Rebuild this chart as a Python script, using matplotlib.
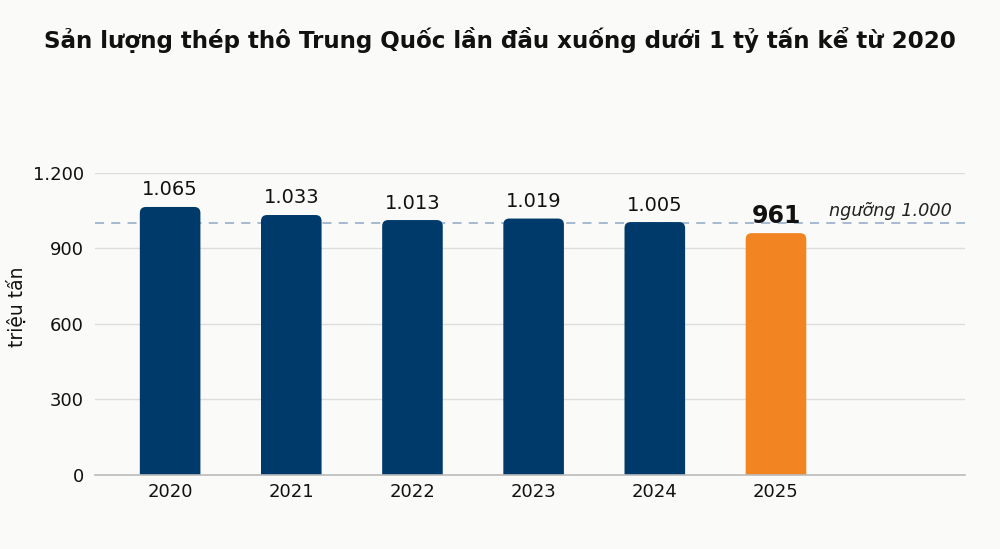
import matplotlib.pyplot as plt
from matplotlib.patches import FancyBboxPatch

plt.rcParams['font.family'] = ['DejaVu Sans']

# san luong thep tho Trung Quoc (trieu tan)
years = ['2020', '2021', '2022', '2023', '2024', '2025']
output = [1065, 1033, 1013, 1019, 1005, 961]
labels = ['1.065', '1.033', '1.013', '1.019', '1.005', '961']
yticks = [0, 300, 600, 900, 1200]
ytick_labels = ['0', '300', '600', '900', '1.200']
threshold = 1000

navy = '#003a6b'
orange = '#f28522'
bg = '#fafaf8'

fig = plt.figure(figsize=(10, 5.49), dpi=100, facecolor=bg)
ax = fig.add_axes([0.095, 0.1348, 0.87, 0.5501])
ax.set_facecolor(bg)

x = list(range(len(years)))
colors = [navy] * (len(years) - 1) + [orange]
bars = ax.bar(x, output, width=0.5, color=colors, zorder=3)

ax.set_xlim(-0.62, 6.56)
ax.set_ylim(0, 1200)

# rounded tops: swap each bar for a rounded box whose bottom is clipped away
fig.canvas.draw()
px_x = ax.transData.transform((1, 0))[0] - ax.transData.transform((0, 0))[0]
px_y = ax.transData.transform((0, 1))[1] - ax.transData.transform((0, 0))[1]
r = 0.05
extra = 3 * r * px_x / px_y
for b in bars:
    b.set_visible(False)
    bx, bw, bh = b.get_x(), b.get_width(), b.get_height()
    p = FancyBboxPatch((bx, -extra), bw, bh + extra,
                       boxstyle=f'round,pad=0,rounding_size={r}',
                       mutation_aspect=px_x / px_y,
                       fc=b.get_facecolor(), ec='none', zorder=3)
    ax.add_patch(p)

for i, (v, s) in enumerate(zip(output, labels)):
    if i == len(output) - 1:
        ax.text(i, v + 22, s, ha='center', va='bottom', fontsize=17,
                fontweight='bold', color='#111111', zorder=5)
    else:
        ax.text(i, v + 30, s, ha='center', va='bottom', fontsize=14,
                color='#111111', zorder=5)

ax.axhline(threshold, color='#9db4cc', lw=1.3, ls=(0, (5, 4)), zorder=2)
ax.text(6.45, threshold + 12, 'ngưỡng 1.000', ha='right', va='bottom',
        fontsize=12.7, style='italic', color='#222222')

ax.set_yticks(yticks)
ax.set_yticklabels(ytick_labels)
ax.set_xticks(x)
ax.set_xticklabels(years)
ax.tick_params(axis='both', length=0, labelsize=13, colors='#111111')
ax.tick_params(axis='x', pad=6)
ax.tick_params(axis='y', pad=8)
ax.grid(axis='y', color='#dddddd', lw=1, zorder=0)
for sp in ['top', 'right', 'left']:
    ax.spines[sp].set_visible(False)
ax.spines['bottom'].set_color('#bbbbbb')
ax.spines['bottom'].set_linewidth(1.2)
ax.spines['bottom'].set_zorder(4)

ax.set_ylabel('triệu tấn', fontsize=13.5, color='#111111')
ax.yaxis.set_label_coords(-0.078, 0.556)

fig.text(0.5, 0.927, 'Sản lượng thép thô Trung Quốc lần đầu xuống dưới 1 tỷ tấn kể từ 2020',
         ha='center', va='center', fontsize=16.6, fontweight='bold', color='#111111')

fig.savefig('out.png', dpi=100, facecolor=bg)
